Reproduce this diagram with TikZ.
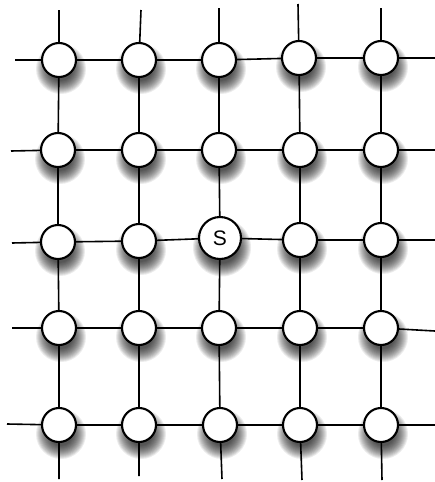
\documentclass[tikz,border=0pt]{standalone}
\usepackage{fontspec}
\setsansfont{Liberation Sans}
\usetikzlibrary{backgrounds}
\pgfdeclarelayer{shade}
\pgfsetlayers{background,shade,main}
\begin{document}
\begin{tikzpicture}[x=1pt,y=-1pt,
  vert/.style={circle, draw=black, line width=2.1pt, fill=white,
    minimum size=34pt, inner sep=0pt},
  bigvert/.style={vert, minimum size=42pt,
    font=\sffamily\fontsize{21}{21}\selectfont},
  gridline/.style={line width=1.6pt, draw=black},
  shadowring/.style={fill=black, opacity=0.075}]
\useasboundingbox (0,0) rectangle (435,482);
% row 1
\node[vert] (n11) at (59,60) {};
\node[vert] (n12) at (139,60) {};
\node[vert] (n13) at (219,60) {};
\node[vert] (n14) at (299,58) {};
\node[vert] (n15) at (381,58) {};
% row 2
\node[vert] (n21) at (58,150) {};
\node[vert] (n22) at (139,150) {};
\node[vert] (n23) at (219,150) {};
\node[vert] (n24) at (300,150) {};
\node[vert] (n25) at (381,150) {};
% row 3
\node[vert] (n31) at (58,242) {};
\node[vert] (n32) at (139,241) {};
\node[bigvert] (n33) at (220,238) {S};
\node[vert] (n34) at (300,240) {};
\node[vert] (n35) at (381,240) {};
% row 4
\node[vert] (n41) at (59,328) {};
\node[vert] (n42) at (139,328) {};
\node[vert] (n43) at (219,328) {};
\node[vert] (n44) at (300,328) {};
\node[vert] (n45) at (381,328) {};
% row 5
\node[vert] (n51) at (59,425) {};
\node[vert] (n52) at (139,425) {};
\node[vert] (n53) at (220,425) {};
\node[vert] (n54) at (300,425) {};
\node[vert] (n55) at (381,425) {};
% free ends
\coordinate (t1) at (59,10);
\coordinate (t2) at (141,10);
\coordinate (t3) at (219,8);
\coordinate (t4) at (298,4);
\coordinate (t5) at (381,8);
\coordinate (b1) at (59,479);
\coordinate (b2) at (139,476);
\coordinate (b3) at (222,479);
\coordinate (b4) at (302,480);
\coordinate (b5) at (382,480);
\coordinate (l1) at (15,60);
\coordinate (l2) at (11,151);
\coordinate (l3) at (12,243);
\coordinate (l4) at (12,328);
\coordinate (l5) at (7,424);
\coordinate (r1) at (435,58);
\coordinate (r2) at (435,150);
\coordinate (r3) at (435,240);
\coordinate (r4) at (435,331);
\coordinate (r5) at (435,425);
% connectors
\begin{pgfonlayer}{background}
\foreach \i in {1,...,5}{
  \draw[gridline] (l\i) -- (n\i1) -- (n\i2) -- (n\i3) -- (n\i4) -- (n\i5) -- (r\i);
  \draw[gridline] (t\i) -- (n1\i) -- (n2\i) -- (n3\i) -- (n4\i) -- (n5\i) -- (b\i);
}
\end{pgfonlayer}
% soft drop shadows
\begin{pgfonlayer}{shade}
\foreach \n in {n11,n12,n13,n14,n15,n21,n22,n23,n24,n25,n31,n32,n34,n35,
                n41,n42,n43,n44,n45,n51,n52,n53,n54,n55}{
  \foreach \k in {0,...,13}{
    \fill[shadowring] ([shift={(2,9)}]\n.center) circle [radius={(25-\k)*1pt}];
  }
}
\foreach \k in {0,...,13}{
  \fill[shadowring] ([shift={(2,9.5)}]n33.center) circle [radius={(29-\k)*1pt}];
}
\end{pgfonlayer}
\end{tikzpicture}
\end{document}
